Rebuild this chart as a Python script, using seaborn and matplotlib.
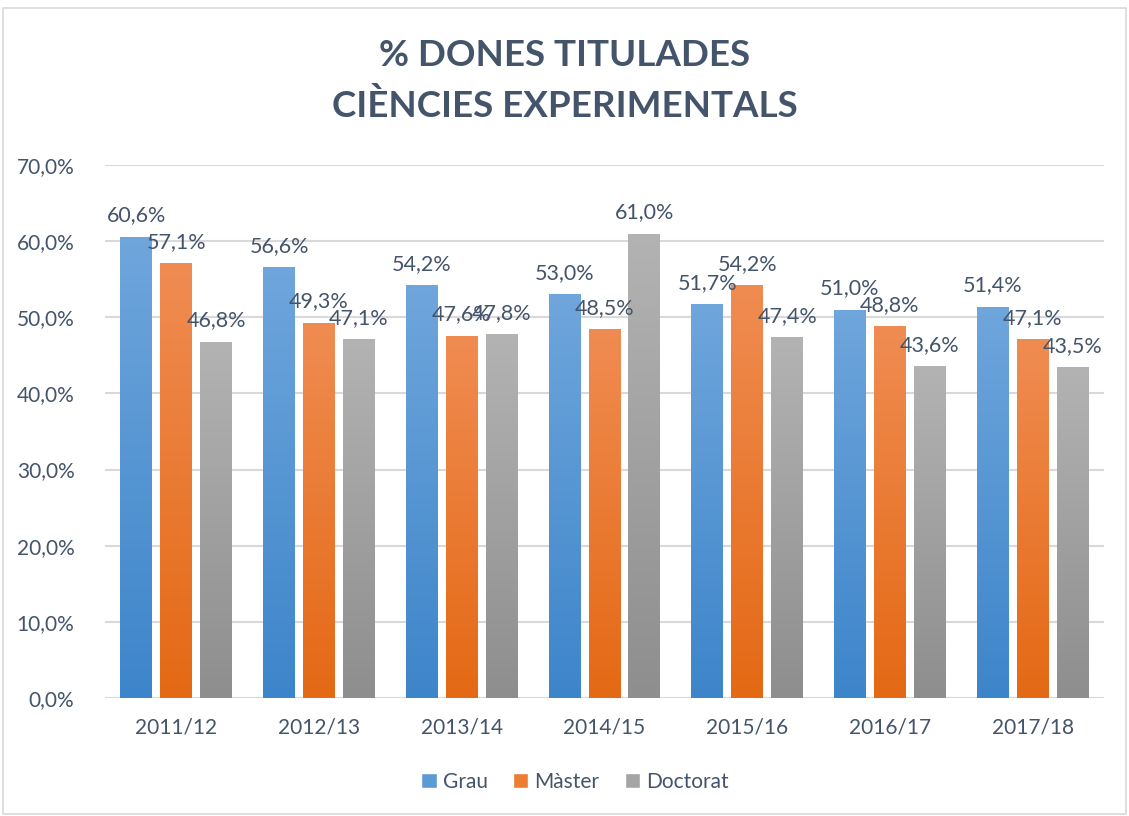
import numpy as np
import pandas as pd
import matplotlib
matplotlib.use("Agg")
import matplotlib.pyplot as plt
import seaborn as sns
from matplotlib.colors import LinearSegmentedColormap
from matplotlib.patches import Rectangle

# dades llegides del gràfic
cursos = ["2011/12", "2012/13", "2013/14", "2014/15", "2015/16", "2016/17", "2017/18"]
grau = [60.6, 56.6, 54.2, 53.0, 51.7, 51.0, 51.4]
master = [57.1, 49.3, 47.6, 48.5, 54.2, 48.8, 47.1]
doctorat = [46.8, 47.1, 47.8, 61.0, 47.4, 43.6, 43.5]
series = ["Grau", "Màster", "Doctorat"]

df = pd.DataFrame({
    "curs": cursos * 3,
    "serie": ["Grau"] * 7 + ["Màster"] * 7 + ["Doctorat"] * 7,
    "valor": grau + master + doctorat,
})

text_col = "#44546a"
# colors: (dalt, baix) per al degradat
grad = {
    "Grau": ("#6fa6dc", "#3d85ca"),
    "Màster": ("#f08c52", "#e46914"),
    "Doctorat": ("#b3b3b3", "#8e8e8e"),
}
mid = {"Grau": "#5b9bd5", "Màster": "#ed7d31", "Doctorat": "#a5a5a5"}

sns.set_style("white")
plt.rcParams["font.family"] = ["Lato", "DejaVu Sans"]

fig = plt.figure(figsize=(11.29, 8.16), dpi=100)
ax = fig.add_axes([105 / 1129, 1 - 698 / 816, 999 / 1129, (698 - 165) / 816])

sns.barplot(data=df, x="curs", y="valor", hue="serie", hue_order=series,
            palette=mid, width=0.84, gap=0.2, ax=ax, legend=False, zorder=3)

# degradat a cada barra + etiqueta
n = len(cursos)
for i, p in enumerate(ax.patches[:3 * n]):
    s = series[i // n]
    top, bot = grad[s]
    cmap = LinearSegmentedColormap.from_list(s, [bot, top])
    x0, y0 = p.get_x(), p.get_y()
    w, h = p.get_width(), p.get_height()
    img = ax.imshow(np.linspace(0, 1, 256).reshape(-1, 1), cmap=cmap, origin="lower",
                    extent=[x0, x0 + w, y0, y0 + h], aspect="auto", zorder=3)
    img.set_clip_path(p)
    p.set_facecolor("none")
    p.set_edgecolor("none")
    ax.annotate(f"{h:.1f}%".replace(".", ","), (x0 + w / 2, y0 + h),
                xytext=(0, 8), textcoords="offset points", ha="center", va="bottom",
                fontsize=15.5, color=text_col, zorder=5)

ax.set_aspect("auto")
ax.set_xlim(-0.5, 6.5)
ax.set_ylim(0, 70)

ax.set_yticks(np.arange(0, 71, 10))
ax.set_yticklabels([f"{v:.1f}%".replace(".", ",") for v in np.arange(0, 71, 10)])
ax.yaxis.grid(True, color="#d9d9d9", linewidth=1.5, zorder=0)
ax.set_axisbelow(True)
for sp in ax.spines.values():
    sp.set_visible(False)
ax.tick_params(axis="y", length=0, pad=22, labelsize=15, labelcolor=text_col)
ax.tick_params(axis="x", length=0, pad=14, labelsize=15, labelcolor=text_col)
ax.set_xlabel("")
ax.set_ylabel("")

fig.text(0.5, 1 - 55 / 816, "% DONES TITULADES", ha="center", va="center",
         fontsize=26.5, fontweight="bold", color=text_col)
fig.text(0.5, 1 - 106 / 816, "CIÈNCIES EXPERIMENTALS", ha="center", va="center",
         fontsize=26.5, fontweight="bold", color=text_col)

handles = [Rectangle((0, 0), 1, 1, facecolor=mid[s]) for s in series]
fig.legend(handles, series, loc="center", bbox_to_anchor=(575 / 1129, 1 - 782 / 816),
           ncol=3, frameon=False, fontsize=15, labelcolor=text_col,
           handlelength=0.75, handleheight=0.75, handletextpad=0.3, columnspacing=1.2)

# vora exterior
fig.patches.append(Rectangle((3 / 1129, 0.003), 1 - 6 / 1129, 1 - 10 / 816,
                             transform=fig.transFigure, fill=False,
                             edgecolor="#d9d9d9", linewidth=1.2))

fig.savefig("out.png", dpi=100)
